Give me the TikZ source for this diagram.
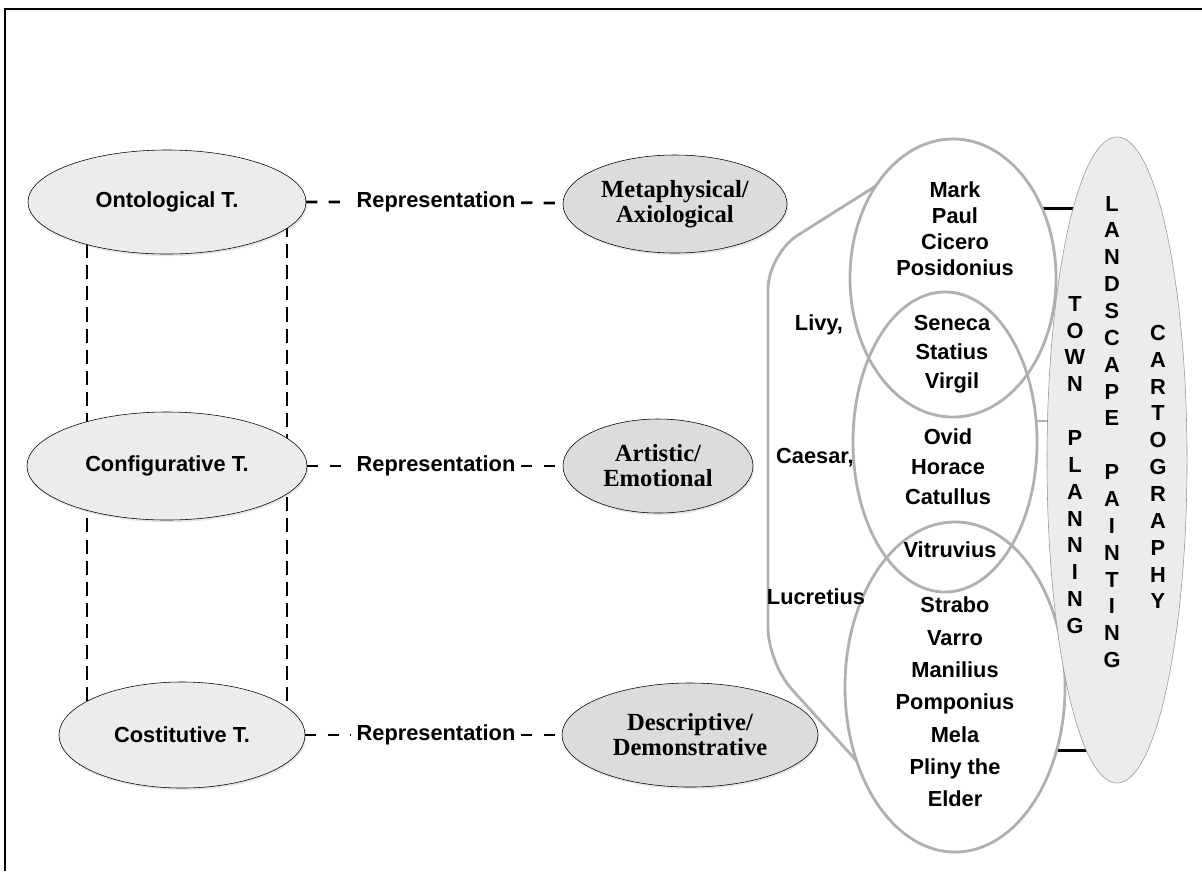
\documentclass[tikz,border=0pt]{standalone}
\usepackage{fontspec}
\setmainfont{Liberation Sans}
\newfontfamily\capfont{Liberation Serif}
\usetikzlibrary{positioning, shapes.geometric, backgrounds, shadows}
\definecolor{tellgray}{RGB}{236,236,236}
\definecolor{modegray}{RGB}{220,220,220}
\definecolor{ringgray}{RGB}{176,176,176}
\definecolor{edgegray}{RGB}{150,150,150}
\newcommand{\labfont}{\fontsize{15.5}{18}\selectfont\bfseries}

\begin{document}
\begin{tikzpicture}[x=0.025cm, y=-0.025cm,
  tell/.style={ellipse, draw=black, thin, fill=tellgray, font=\labfont,
               inner sep=0pt, outer sep=0pt,
               drop shadow={opacity=0.2, shadow xshift=0.8pt, shadow yshift=-1.5pt}},
  mode/.style={ellipse, draw=black, thin, fill=modegray,
               inner sep=0pt, outer sep=0pt,
               drop shadow={opacity=0.2, shadow xshift=0.8pt, shadow yshift=-1.5pt}},
  modetext/.style={align=center, font=\capfont\fontsize{17.5}{17.7}\selectfont\bfseries},
  ring/.style={ellipse, draw=ringgray, line width=2pt, inner sep=0pt, outer sep=0pt},
  names/.style={font=\fontsize{15.5}{#1}\selectfont\bfseries, align=center},
  letters/.style={font=\fontsize{15.5}{19.1}\selectfont\bfseries, align=center},
  rep/.style={font=\labfont, fill=white, inner sep=4pt},
  hdash/.style={line width=2pt, dash pattern=on 8pt off 8pt},
  vdash/.style={line width=1.7pt, dash pattern=on 10pt off 5pt},
  link/.style={line width=1.8pt},
  brace/.style={draw=ringgray, line width=2pt, rounded corners=25pt}
]
  \useasboundingbox (0,0) rectangle (1202,871);

  % frame
  \draw[line width=2pt] (5,871) -- (5,9) -- (1202,9);

  % Left column - the three T. ellipses
  \node[tell, minimum width=6.95cm, minimum height=2.6cm]  (onto) at (167,202) {Ontological T.};
  \node[tell, minimum width=7.0cm,  minimum height=2.7cm]  (conf) at (167,466) {Configurative T.};
  \node[tell, minimum width=6.15cm, minimum height=2.65cm] (cost) at (182,735) {Costitutive T.};

  % dashed sides behind them
  \coordinate (lt) at (87,202);  \coordinate (lb) at (87,735);
  \coordinate (rt) at (287,202); \coordinate (rb) at (287,735);
  \begin{scope}[on background layer]
    \draw[vdash] (lt) -- (lb);
    \draw[vdash] (rt) -- (rb);
  \end{scope}

  % Middle column - representation modes
  \node[mode, minimum width=5.6cm, minimum height=2.45cm,
        label={[modetext]center:Metaphysical/\\Axiological}]    (meta) at (675,204) {};
  \node[mode, minimum width=4.75cm, minimum height=2.35cm,
        label={[modetext]center:Artistic/\\Emotional}]          (art)  at (658,466) {};
  \node[mode, minimum width=6.4cm, minimum height=2.6cm,
        label={[modetext]center:Descriptive/\\Demonstrative}]   (desc) at (690,735) {};

  \node[rep] (rep1) at (436,202) {Representation};
  \node[rep] (rep2) at (436,466) {Representation};
  \node[rep] (rep3) at (436,735) {Representation};

  \draw[hdash] (onto) -- (rep1) -- (meta);
  \draw[hdash] (conf) -- (rep2) -- (art);
  \draw[hdash] (cost) -- (rep3) -- (desc);

  % Right - the three author rings
  \node[ring, minimum width=5.15cm, minimum height=6.95cm] (topring) at (953,278) {};
  \node[ring, minimum width=4.6cm,  minimum height=7.5cm]  (midring) at (945,442) {};
  \node[ring, minimum width=5.5cm,  minimum height=8.25cm] (botring) at (955,687) {};

  \node[names=18.4] (grp1) at (955,229) {Mark\\Paul\\Cicero\\Posidonius};
  \node[names=20.5] (grp2) at (952,354) {Seneca\\Statius\\Virgil};
  \node[names=21.3] (grp3) at (948,467) {Ovid\\Horace\\Catullus};
  \node[names=18]   (grp4) at (950,550) {Vitruvius};
  \node[names=23]   (grp5) at (955,702) {Strabo\\Varro\\Manilius\\Pomponius\\Mela\\Pliny the\\Elder};

  % bracket with the historians
  \coordinate (bend1) at (768,254);
  \coordinate (bend2) at (768,663);
  \draw[brace] (topring.130.6) -- (bend1) -- (bend2) -- (botring.217.4);
  \node[names=18] (livy)   at (819,325) {Livy,};
  \node[names=18] (caesar) at (815,458) {Caesar,};
  \node[names=18] (lucr)   at (816,597) {Lucretius};

  % Far right - fields
  \node[ellipse, draw=edgegray, fill=tellgray, inner sep=0pt, outer sep=0pt,
        minimum width=3.5cm, minimum height=16.15cm] (field) at (1117,460) {};
  \node[letters] (town) at (1075,465) {T\\O\\W\\N\\[19.1pt]P\\L\\A\\N\\N\\I\\N\\G};
  \node[letters] (land) at (1112,432) {L\\A\\N\\D\\S\\C\\A\\P\\E\\[19.1pt]P\\A\\I\\N\\T\\I\\N\\G};
  \node[letters] (cart) at (1158,467) {C\\A\\R\\T\\O\\G\\R\\A\\P\\H\\Y};

  \begin{scope}[on background layer]
    \draw[link] (topring.38.2) -- (topring.38.2 -| field.center);
    \draw[link, ringgray] (midring.13.6) -- (midring.13.6 -| field.center);
    \draw[link] (botring.-32.7) -- (botring.-32.7 -| field.center);
  \end{scope}
\end{tikzpicture}
\end{document}
